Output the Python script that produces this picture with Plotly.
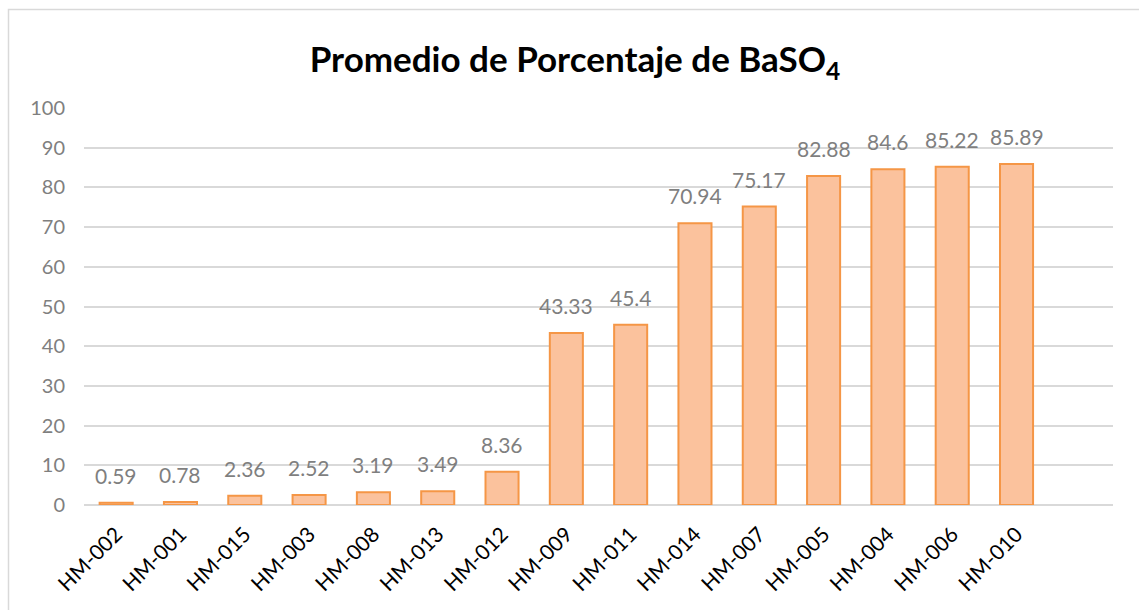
import plotly.graph_objects as go

samples = ["HM-002", "HM-001", "HM-015", "HM-003", "HM-008", "HM-013", "HM-012",
           "HM-009", "HM-011", "HM-014", "HM-007", "HM-005", "HM-004", "HM-006", "HM-010"]
baso4_pct = [0.59, 0.78, 2.36, 2.52, 3.19, 3.49, 8.36,
             43.33, 45.4, 70.94, 75.17, 82.88, 84.6, 85.22, 85.89]
y_ticks = list(range(0, 101, 10))

W, H = 1139, 610
L, R, T, B = 84, 26, 108, 105

fig = go.Figure(
    go.Bar(
        x=samples,
        y=baso4_pct,
        marker=dict(color="#FBC29D", line=dict(color="#F59646", width=2)),
        cliponaxis=False,
    )
)

# value labels above each bar
for name, val in zip(samples, baso4_pct):
    fig.add_annotation(
        x=name, y=val, text=str(val), showarrow=False,
        xanchor="center", yanchor="bottom", yshift=13,
        font=dict(family="Lato", size=21, color="#7F7F7F"),
    )

pw = W - L - R
ph = H - T - B
fig.add_shape(
    type="rect", xref="paper", yref="paper",
    x0=(8.5 - L) / pw, x1=(W + 5 - L) / pw,
    y0=-(H + 5 - (H - B)) / ph, y1=(H - B - 9.5) / ph,
    line=dict(color="#D9D9D9", width=1.5), fillcolor="rgba(0,0,0,0)", layer="below",
)

fig.update_layout(
    width=W, height=H,
    margin=dict(l=L, r=R, t=T, b=B),
    paper_bgcolor="white", plot_bgcolor="white",
    bargap=0.486,
    showlegend=False,
    title=dict(
        text="<b>Promedio de Porcentaje de BaSO<sub>4</sub></b>",
        x=575 / W, xanchor="center", xref="container",
        y=1 - 60 / H, yanchor="middle",
        font=dict(family="Lato", size=35, color="#000000", weight=900),
    ),
    xaxis=dict(
        type="category",
        range=[-0.5, 15.5],
        tickangle=-45,
        tickfont=dict(family="Lato", size=21, color="#000000"),
        showgrid=False, showline=False, ticks="", ticklabelstandoff=12,
    ),
    yaxis=dict(
        range=[0, 100],
        tickvals=y_ticks,
        tickfont=dict(family="Lato", size=20, color="#7F7F7F"),
        gridcolor="#D9D9D9", gridwidth=1.5,
        zeroline=True, zerolinecolor="#D9D9D9", zerolinewidth=1.5,
        showline=False, ticks="", ticklabelstandoff=18,
    ),
)

fig.write_html("out.html")
